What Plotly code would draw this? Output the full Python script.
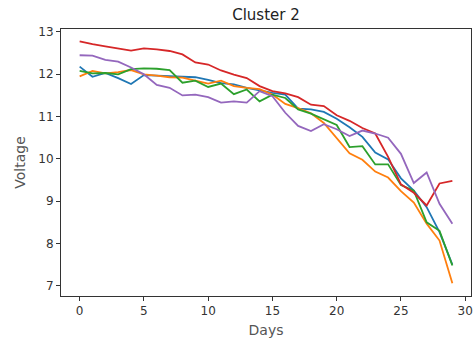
import plotly.graph_objects as go

days = list(range(30))
blue = [12.18, 11.94, 12.03, 11.91, 11.77, 11.98, 11.97, 11.96, 11.95, 11.93,
        11.87, 11.79, 11.76, 11.68, 11.62, 11.56, 11.52, 11.19, 11.17, 11.11,
        10.95, 10.75, 10.52, 10.15, 9.99, 9.54, 9.25, 8.86, 8.27, 7.50]
orange = [11.95, 12.08, 12.02, 12.05, 12.10, 12.00, 11.97, 11.93, 11.92, 11.85,
          11.78, 11.85, 11.72, 11.68, 11.65, 11.52, 11.30, 11.20, 11.08, 10.85,
          10.50, 10.13, 9.98, 9.70, 9.56, 9.24, 8.97, 8.47, 8.07, 7.06]
green = [12.08, 12.02, 12.03, 12.00, 12.12, 12.14, 12.13, 12.10, 11.80, 11.85,
         11.70, 11.78, 11.53, 11.64, 11.36, 11.52, 11.44, 11.17, 11.07, 10.93,
         10.80, 10.28, 10.30, 9.87, 9.87, 9.38, 9.25, 8.50, 8.30, 7.48]
red = [12.78, 12.71, 12.66, 12.61, 12.56, 12.61, 12.59, 12.55, 12.47, 12.28,
       12.23, 12.09, 11.99, 11.91, 11.72, 11.60, 11.55, 11.46, 11.28, 11.25,
       11.03, 10.90, 10.73, 10.60, 10.05, 9.40, 9.20, 8.90, 9.42, 9.48]
purple = [12.45, 12.44, 12.34, 12.30, 12.16, 12.00, 11.75, 11.68, 11.50, 11.52,
          11.46, 11.33, 11.36, 11.33, 11.60, 11.48, 11.09, 10.78, 10.66, 10.82,
          10.70, 10.54, 10.67, 10.60, 10.50, 10.12, 9.43, 9.68, 8.94, 8.47]

series = [blue, orange, green, red, purple]
colors = ["#1f77b4", "#ff7f0e", "#2ca02c", "#d62728", "#9467bd"]

fig = go.Figure()
for s, c in zip(series, colors):
    fig.add_trace(go.Scatter(x=days, y=s, mode="lines",
                             line=dict(color=c, width=1.8), showlegend=False))

axis_common = dict(showgrid=False, zeroline=False, showline=True, mirror=True,
                   linecolor="#333", linewidth=1, ticks="outside", ticklen=4,
                   tickcolor="#333", tickfont=dict(family="DejaVu Sans", size=12, color="#333"))

fig.update_layout(
    width=476, height=340,
    margin=dict(l=61, r=3, t=29, b=44),
    plot_bgcolor="white", paper_bgcolor="white",
    title=dict(text="Cluster 2", x=0.5, xanchor="center", xref="paper",
               y=1 - 15 / 340, yanchor="middle",
               font=dict(family="DejaVu Sans", size=15, color="#222")),
    xaxis=dict(range=[-1.45, 30.45], tick0=0, dtick=5,
               title=dict(text="Days", standoff=7,
                          font=dict(family="DejaVu Sans", size=14, color="#555")),
               **axis_common),
    yaxis=dict(range=[6.76, 13.07], tick0=7, dtick=1,
               title=dict(text="Voltage", standoff=9,
                          font=dict(family="DejaVu Sans", size=14, color="#555")),
               **axis_common),
)

fig.write_html("out.html")
